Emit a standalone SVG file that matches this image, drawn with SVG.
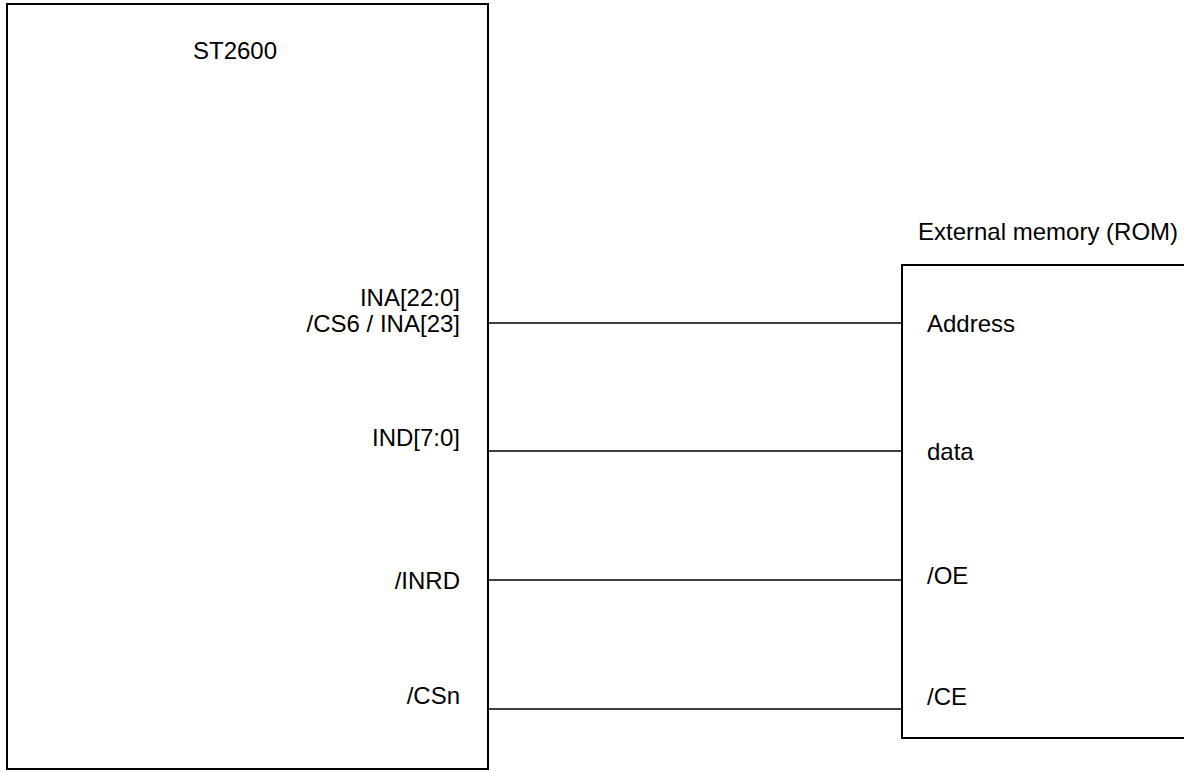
<svg xmlns="http://www.w3.org/2000/svg" width="1184" height="772" viewBox="0 0 1184 772">
<style>
.box{fill:#fff;stroke:#000;stroke-width:2}
.wire{stroke:#000;stroke-width:1.5;fill:none}
text{font-family:"Liberation Sans",Arial,sans-serif;font-size:24px;fill:#000}
.r{text-anchor:end}
</style>
<rect width="1184" height="772" fill="#fff"/>
<g id="st2600">
<rect class="box" x="7" y="4" width="481" height="765"/>
<text x="193" y="59">ST2600</text>
<text class="r" x="460" y="306">INA[22:0]</text>
<text class="r" x="460" y="332">/CS6 / INA[23]</text>
<text class="r" x="460" y="446">IND[7:0]</text>
<text class="r" x="460" y="589">/INRD</text>
<text class="r" x="460" y="704">/CSn</text>
</g>
<g id="rom">
<text x="918" y="240">External memory (ROM)</text>
<rect class="box" x="902" y="265" width="300" height="473"/>
<text x="927" y="332">Address</text>
<text x="927" y="460">data</text>
<text x="927" y="584">/OE</text>
<text x="927" y="705">/CE</text>
</g>
<g id="connectors">
<line class="wire" x1="488" y1="323" x2="902" y2="323"/>
<line class="wire" x1="488" y1="451" x2="902" y2="451"/>
<line class="wire" x1="488" y1="580" x2="902" y2="580"/>
<line class="wire" x1="488" y1="709" x2="902" y2="709"/>
</g>
</svg>
